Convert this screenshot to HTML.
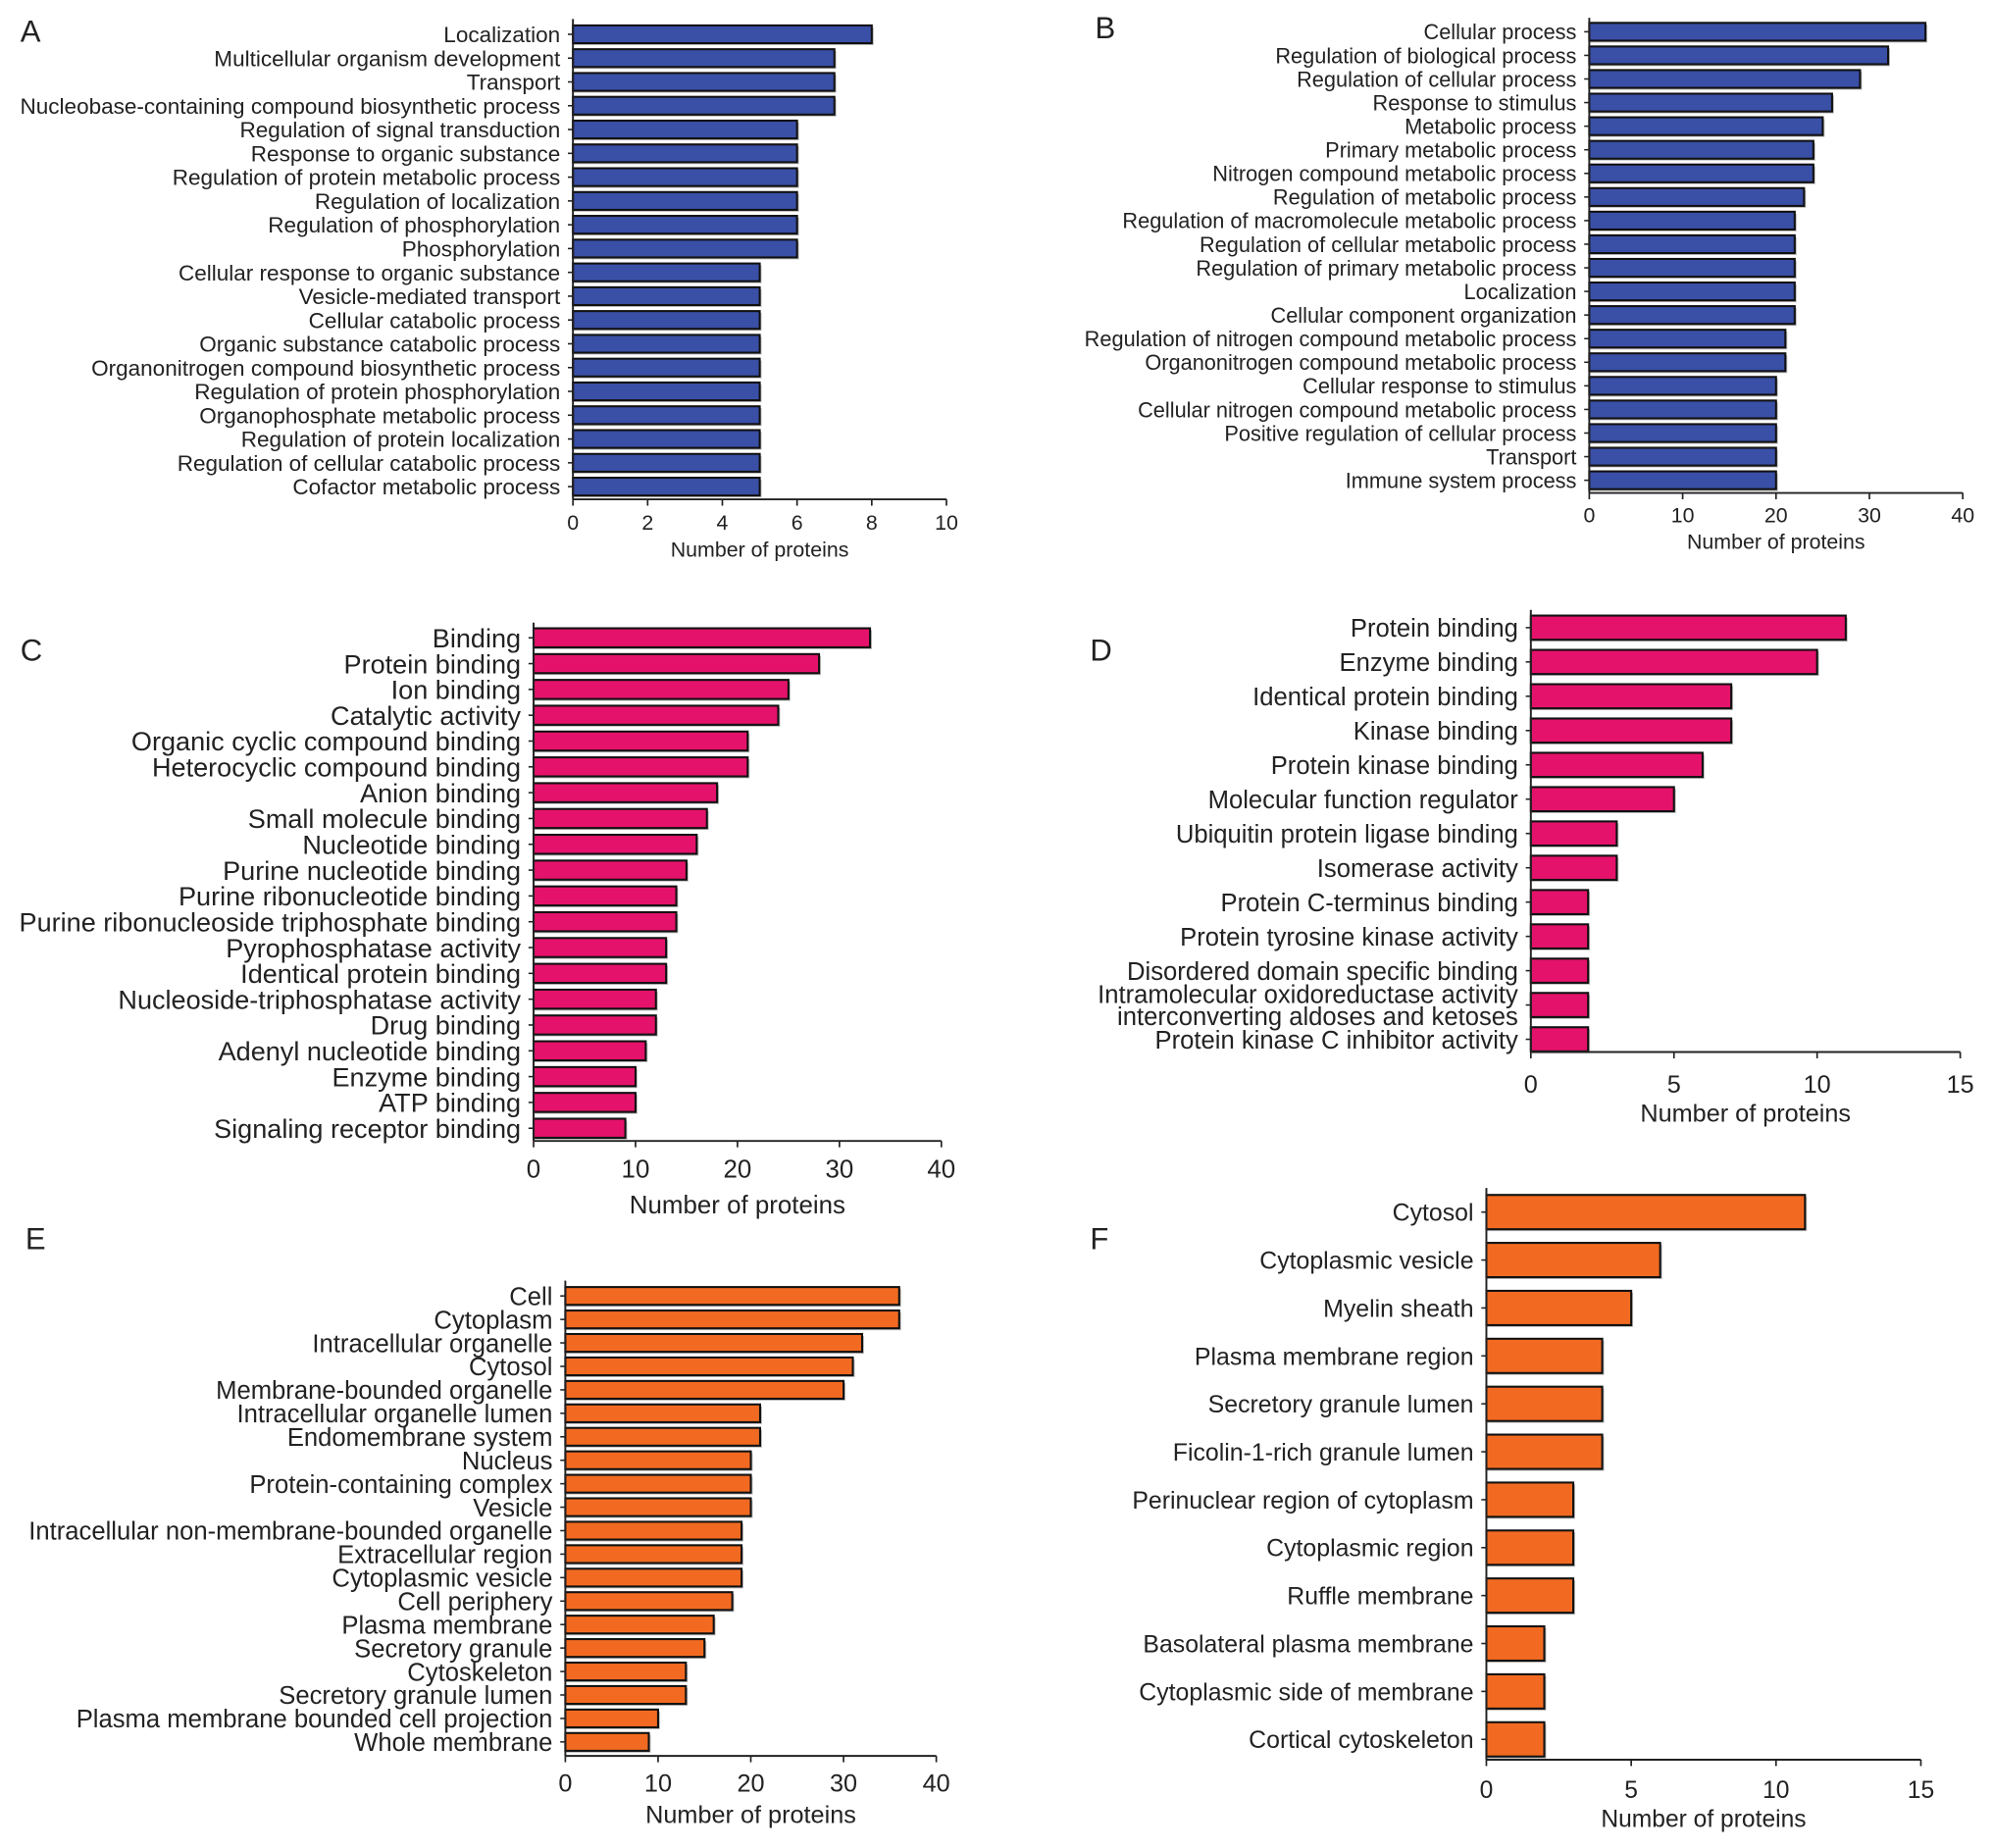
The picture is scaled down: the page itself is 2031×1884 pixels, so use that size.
<!DOCTYPE html>
<html><head><meta charset="utf-8"><style>
html,body{margin:0;padding:0;background:#fff}
svg{display:block}
text{font-family:"Liberation Sans",sans-serif;fill:#222}
</style></head><body>
<svg id="chart" width="2031" height="1884" viewBox="0 0 1568 1454.5" preserveAspectRatio="none" xmlns="http://www.w3.org/2000/svg"></svg>
<script>
const catA = ["Localization","Multicellular organism development","Transport","Nucleobase-containing compound biosynthetic process","Regulation of signal transduction","Response to organic substance","Regulation of protein metabolic process","Regulation of localization","Regulation of phosphorylation","Phosphorylation","Cellular response to organic substance","Vesicle-mediated transport","Cellular catabolic process","Organic substance catabolic process","Organonitrogen compound biosynthetic process","Regulation of protein phosphorylation","Organophosphate metabolic process","Regulation of protein localization","Regulation of cellular catabolic process","Cofactor metabolic process"];
const valA = [8,7,7,7,6,6,6,6,6,6,5,5,5,5,5,5,5,5,5,5];
const ticksA = [0,2,4,6,8,10];
const catB = ["Cellular process","Regulation of biological process","Regulation of cellular process","Response to stimulus","Metabolic process","Primary metabolic process","Nitrogen compound metabolic process","Regulation of metabolic process","Regulation of macromolecule metabolic process","Regulation of cellular metabolic process","Regulation of primary metabolic process","Localization","Cellular component organization","Regulation of nitrogen compound metabolic process","Organonitrogen compound metabolic process","Cellular response to stimulus","Cellular nitrogen compound metabolic process","Positive regulation of cellular process","Transport","Immune system process"];
const valB = [36,32,29,26,25,24,24,23,22,22,22,22,22,21,21,20,20,20,20,20];
const ticksB = [0,10,20,30,40];
const catC = ["Binding","Protein binding","Ion binding","Catalytic activity","Organic cyclic compound binding","Heterocyclic compound binding","Anion binding","Small molecule binding","Nucleotide binding","Purine nucleotide binding","Purine ribonucleotide binding","Purine ribonucleoside triphosphate binding","Pyrophosphatase activity","Identical protein binding","Nucleoside-triphosphatase activity","Drug binding","Adenyl nucleotide binding","Enzyme binding","ATP binding","Signaling receptor binding"];
const valC = [33,28,25,24,21,21,18,17,16,15,14,14,13,13,12,12,11,10,10,9];
const ticksC = [0,10,20,30,40];
const catD = ["Protein binding","Enzyme binding","Identical protein binding","Kinase binding","Protein kinase binding","Molecular function regulator","Ubiquitin protein ligase binding","Isomerase activity","Protein C-terminus binding","Protein tyrosine kinase activity","Disordered domain specific binding","Intramolecular oxidoreductase activity|interconverting aldoses and ketoses","Protein kinase C inhibitor activity"];
const valD = [11,10,7,7,6,5,3,3,2,2,2,2,2];
const ticksD = [0,5,10,15];
const catE = ["Cell","Cytoplasm","Intracellular organelle","Cytosol","Membrane-bounded organelle","Intracellular organelle lumen","Endomembrane system","Nucleus","Protein-containing complex","Vesicle","Intracellular non-membrane-bounded organelle","Extracellular region","Cytoplasmic vesicle","Cell periphery","Plasma membrane","Secretory granule","Cytoskeleton","Secretory granule lumen","Plasma membrane bounded cell projection","Whole membrane"];
const valE = [36,36,32,31,30,21,21,20,20,20,19,19,19,18,16,15,13,13,10,9];
const ticksE = [0,10,20,30,40];
const catF = ["Cytosol","Cytoplasmic vesicle","Myelin sheath","Plasma membrane region","Secretory granule lumen","Ficolin-1-rich granule lumen","Perinuclear region of cytoplasm","Cytoplasmic region","Ruffle membrane","Basolateral plasma membrane","Cytoplasmic side of membrane","Cortical cytoskeleton"];
const valF = [11,6,5,4,4,4,3,3,3,2,2,2];
const ticksF = [0,5,10,15];

const svg = document.getElementById('chart');
const NS = 'http://www.w3.org/2000/svg';
function mk(tag, attrs, parent){const e=document.createElementNS(NS,tag);for(const k in attrs)e.setAttribute(k,attrs[k]);(parent||svg).appendChild(e);return e;}

function panel(cfg, cats, vals, ticks){
  const g = mk('g',{});
  
  
  const xs = v => cfg.x0 + (v - ticks[0]) / (ticks[ticks.length-1] - ticks[0]) * (cfg.x1 - cfg.x0);
  const step = (cfg.yLast - cfg.yFirst) / (cats.length - 1);
  const ys = i => cfg.yFirst + i * step;
  const L = mk('text',{x:cfg.lx,y:cfg.ly,'font-size':24},g); L.textContent=cfg.letter;
  
  
  cats.forEach((c,i)=>{
    const y = ys(i);
    mk('rect',{x:xs(0),y:y-cfg.bh/2+1.5,width:xs(vals[i])-xs(0)+1.5,height:cfg.bh,fill:'#bbb'},g);
    const r = mk('rect',{x:xs(0),y:y-cfg.bh/2,width:xs(vals[i])-xs(0),height:cfg.bh,fill:cfg.color,stroke:'#111','stroke-width':1.6},g);
    
    
    mk('line',{x1:cfg.x0-4,x2:cfg.x0,y1:y,y2:y,stroke:'#222','stroke-width':1.2},g);
    const parts = c.split('|');
    parts.forEach((p,j)=>{
      const t = mk('text',{x:cfg.x0-10,y:y+cfg.fs*0.36+(j-(parts.length-1)/2)*cfg.fs*0.88,'font-size':cfg.fs,'text-anchor':'end'},g);
      t.textContent = p;
      
      
    });
  });
  mk('line',{x1:cfg.x0,x2:cfg.x0,y1:cfg.yTop,y2:cfg.axisY,stroke:'#222','stroke-width':1.5},g);
  mk('line',{x1:cfg.x0,x2:cfg.x1,y1:cfg.axisY,y2:cfg.axisY,stroke:'#222','stroke-width':1.5},g);
  ticks.forEach(tv=>{
    mk('line',{x1:xs(tv),x2:xs(tv),y1:cfg.axisY,y2:cfg.axisY+5,stroke:'#222','stroke-width':1.3},g);
    const t = mk('text',{x:xs(tv),y:cfg.tickY,'font-size':cfg.tfs,'text-anchor':'middle'},g);
    t.textContent = tv;
    
    
  });
  const tt = mk('text',{x:(cfg.x0+cfg.x1)/2,y:cfg.titleY,'font-size':cfg.tfs,'text-anchor':'middle'},g);
  tt.textContent = 'Number of proteins';
  
  
}
const BLUE='#3a4fa6', PINK='#e5126b', ORANGE='#f26a21';
panel({letter:'A',lx:16,ly:33,x0:451,x1:745,yFirst:27,yLast:383,bh:14,yTop:15,axisY:393,tickY:417,titleY:438,fs:17.4,tfs:16.5,color:BLUE},catA,valA,ticksA);
panel({letter:'B',lx:862,ly:30,x0:1251,x1:1545,yFirst:25,yLast:378,bh:14,yTop:14,axisY:388,tickY:411,titleY:432,fs:16.8,tfs:16.5,color:BLUE},catB,valB,ticksB);
panel({letter:'C',lx:16,ly:520,x0:420,x1:741,yFirst:502,yLast:888,bh:15,yTop:490,axisY:898,tickY:927,titleY:955,fs:20.9,tfs:20,color:PINK},catC,valC,ticksC);
panel({letter:'D',lx:858,ly:520,x0:1205,x1:1543,yFirst:494,yLast:818,bh:19,yTop:480,axisY:828,tickY:860,titleY:883,fs:19.8,tfs:19.5,color:PINK},catD,valD,ticksD);
panel({letter:'E',lx:20,ly:983,x0:445,x1:737,yFirst:1020,yLast:1371,bh:14,yTop:1008,axisY:1382,tickY:1410,titleY:1435,fs:19.8,tfs:19.5,color:ORANGE},catE,valE,ticksE);
panel({letter:'F',lx:858,ly:983,x0:1170,x1:1512,yFirst:954,yLast:1369,bh:27,yTop:935,axisY:1385,tickY:1415,titleY:1438,fs:19.2,tfs:19,color:ORANGE},catF,valF,ticksF);
</script>
</body></html>
